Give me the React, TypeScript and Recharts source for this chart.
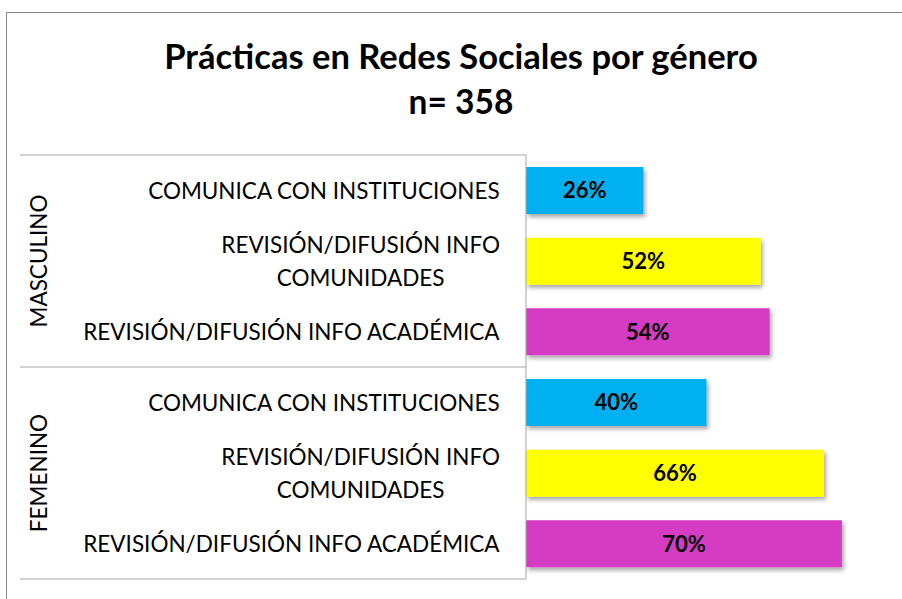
import { BarChart, Bar, XAxis, YAxis, Cell, LabelList } from "recharts";

const genders = ["MASCULINO", "FEMENINO"];
const categories = [
  "COMUNICA CON INSTITUCIONES",
  "REVISIÓN/DIFUSIÓN INFO\nCOMUNIDADES",
  "REVISIÓN/DIFUSIÓN INFO ACADÉMICA",
];
const masculino = [26, 52, 54];
const femenino = [40, 66, 70];
const colors = ["#00B0F0", "#FFFF00", "#D63AC4"];

const W = 902;
const H = 599;
const margin = { top: 155, right: 15, bottom: 20, left: 20 };
const AXIS_W = 506;
const FONT = "Lato, 'Open Sans', sans-serif";
const LINE = "#a6a6a6";
const LABEL_FS = 22.5;

const rows = genders.flatMap((g, gi) =>
  categories.map((c, ci) => ({
    key: `${g}-${ci}`,
    label: c,
    gender: g,
    value: (gi === 0 ? masculino : femenino)[ci],
    color: colors[ci],
  }))
);

const band = (H - margin.top - margin.bottom) / rows.length;

let ctx: CanvasRenderingContext2D | null = null;
function textWidth(s: string, font: string) {
  if (!ctx) ctx = document.createElement("canvas").getContext("2d");
  if (!ctx) return s.length * 11;
  ctx.font = font;
  return ctx.measureText(s).width;
}

function CategoryTick(props: any) {
  const { y, payload } = props;
  const i = payload.index;
  const row = rows[i];
  const right = margin.left + AXIS_W - 26;
  const lines = row.label.split("\n");
  const w = Math.max(...lines.map((l: string) => textWidth(l, `${LABEL_FS}px Lato`)));
  const cx = right - w / 2;
  const lh = 33;
  const left = margin.left;
  const axisX = margin.left + AXIS_W;
  return (
    <g>
      {lines.map((l: string, k: number) => (
        <text
          key={k}
          x={cx}
          y={y + (k - (lines.length - 1) / 2) * lh}
          textAnchor="middle"
          dominantBaseline="central"
          fontFamily={FONT}
          fontSize={LABEL_FS}
          fill="#000"
        >
          {l}
        </text>
      ))}
      {i % categories.length === 0 && (
        <line x1={left} x2={axisX} y1={y - band / 2} y2={y - band / 2} stroke={LINE} />
      )}
      {i === rows.length - 1 && (
        <line x1={left} x2={axisX} y1={y + band / 2} y2={y + band / 2} stroke={LINE} />
      )}
      {i % categories.length === 1 && (
        <text
          x={38}
          y={y}
          transform={`rotate(-90 38 ${y})`}
          textAnchor="middle"
          dominantBaseline="central"
          fontFamily={FONT}
          fontSize={LABEL_FS}
          fill="#000"
        >
          {row.gender}
        </text>
      )}
    </g>
  );
}

export default function App() {
  return (
    <div style={{ position: "fixed", left: 0, top: 0, width: W, height: H, overflow: "hidden", background: "#fff" }}>
      <div
        style={{
          position: "absolute",
          left: 6,
          top: 12,
          width: 1000,
          height: 1000,
          border: "1px solid #888",
        }}
      />
      <div
        style={{
          position: "absolute",
          left: 0,
          width: 922,
          top: 33,
          textAlign: "center",
          fontFamily: FONT,
          fontWeight: 700,
          fontSize: 34.5,
          lineHeight: "45px",
          color: "#000",
        }}
      >
        Prácticas en Redes Sociales por género
        <br />
        <span style={{ fontSize: 33.5 }}>n= 358</span>
      </div>
      <div style={{ position: "absolute", left: 0, top: 0 }}>
        <BarChart width={W} height={H} data={rows} layout="vertical" margin={margin}>
          <defs>
            <filter id="shadow" x="-10%" y="-30%" width="130%" height="180%">
              <feDropShadow dx="2" dy="3" stdDeviation="2" floodColor="#000" floodOpacity="0.35" />
            </filter>
          </defs>
          <XAxis type="number" domain={[0, 80]} hide />
          <YAxis
            type="category"
            dataKey="key"
            width={AXIS_W}
            axisLine={{ stroke: LINE }}
            tickLine={false}
            tick={<CategoryTick />}
            interval={0}
          />
          <Bar dataKey="value" barSize={47} isAnimationActive={false} style={{ filter: "url(#shadow)" }}>
            {rows.map((r) => (
              <Cell key={r.key} fill={r.color} />
            ))}
            <LabelList
              dataKey="value"
              position="center"
              formatter={(v: any) => `${v}%`}
              fill="#000"
              fontFamily={FONT}
              fontWeight={700}
              fontSize={22}
            />
          </Bar>
        </BarChart>
      </div>
    </div>
  );
}
